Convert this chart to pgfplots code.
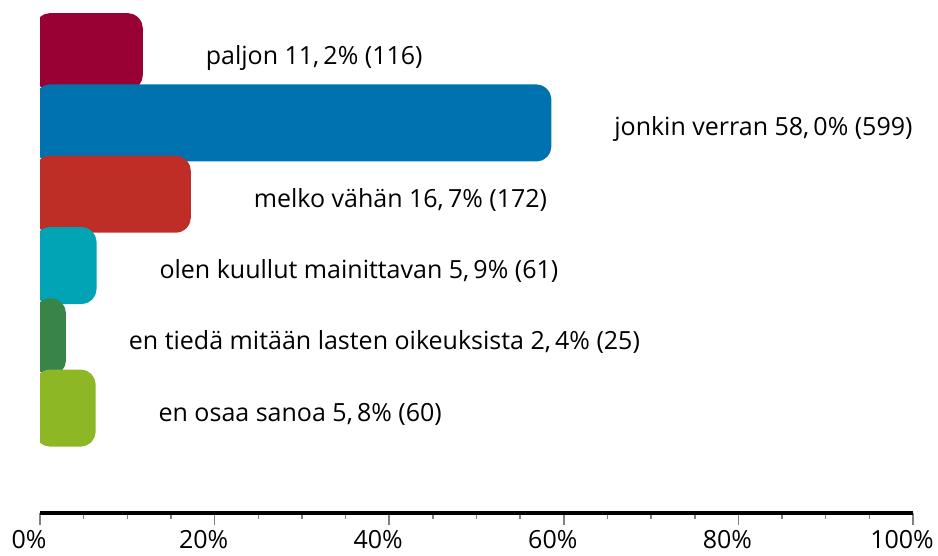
\documentclass[border=0pt]{standalone}
\usepackage{pgfplots}
\pgfplotsset{compat=1.18}
\usepackage{fontspec}
\setmainfont{Open Sans}
\definecolor{c1}{HTML}{990033}
\definecolor{c2}{HTML}{0072B0}
\definecolor{c3}{HTML}{BE2E26}
\definecolor{c4}{HTML}{00A4B4}
\definecolor{c5}{HTML}{388449}
\definecolor{c6}{HTML}{8EB725}
\newcommand{\lbl}{\fontsize{25}{30}\selectfont}
\begin{document}
\begin{tikzpicture}
\begin{axis}[
  width=873pt, height=513pt, scale only axis,
  xmin=0, xmax=100, ymin=-1.472, ymax=5.725,
  x coord trafo/.code={\pgfmathparse{#1+2}},
  x coord inv trafo/.code={\pgfmathparse{#1-2}},
  xbar, bar shift=0pt, bar width=67pt,
  axis x line*=bottom, axis y line=none,
  xtick={0,20,40,60,80,100},
  xticklabels={0\%,20\%,40\%,60\%,80\%,100\%},
  minor x tick num=3,
  xtick align=outside,
  major tick length=12pt, minor tick length=6pt,
  every tick/.style={gray, line width=1.5pt},
  axis line style={line width=4pt, black},
  xticklabel style={font=\lbl, anchor=base, xshift=-11pt, yshift=-24pt},
  nodes near coords align={anchor=base west},
  every node near coord/.append style={font=\lbl, text=black, inner sep=0pt, xshift=63pt, yshift=-13pt},
  every axis plot/.append style={line width=10pt, rounded corners=10pt, line join=round},
]
\addplot[fill=c1, draw=c1, nodes near coords={paljon 11,\,2\% (116)}] coordinates {(11.2,5)};
\addplot[fill=c2, draw=c2, nodes near coords={jonkin verran 58,\,0\% (599)}] coordinates {(58.0,4)};
\addplot[fill=c3, draw=c3, nodes near coords={melko vähän 16,\,7\% (172)}] coordinates {(16.7,3)};
\addplot[fill=c4, draw=c4, nodes near coords={olen kuullut mainittavan 5,\,9\% (61)}] coordinates {(5.9,2)};
\addplot[fill=c5, draw=c5, nodes near coords={en tiedä mitään lasten oikeuksista 2,\,4\% (25)}] coordinates {(2.4,1)};
\addplot[fill=c6, draw=c6, nodes near coords={en osaa sanoa 5,\,8\% (60)}] coordinates {(5.8,0)};
\end{axis}
\pgfresetboundingbox
\path ([xshift=-40pt,yshift=-43pt]current axis.south west) rectangle ([xshift=25pt]current axis.north east);
\end{tikzpicture}
\end{document}
